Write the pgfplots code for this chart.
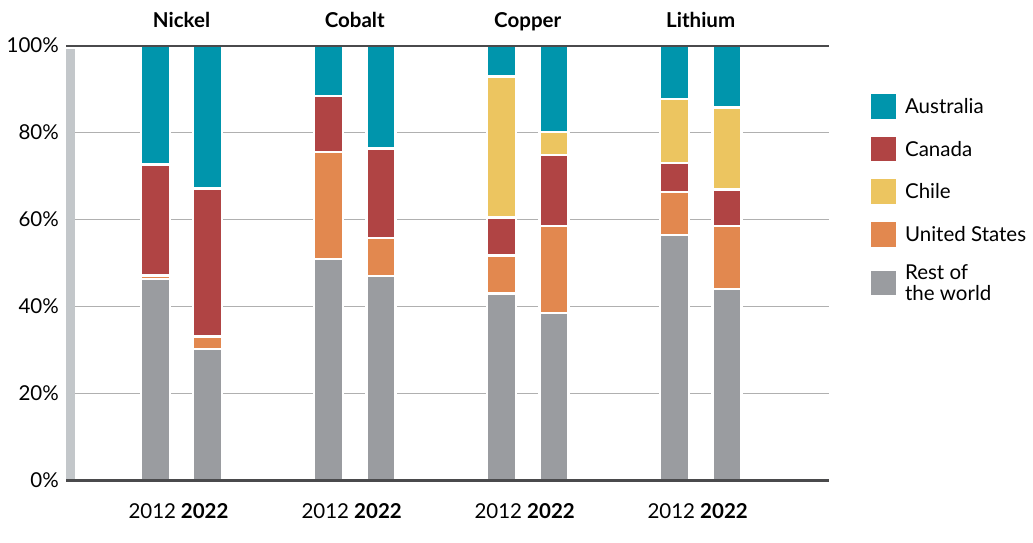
\documentclass[border=0pt]{standalone}
\usepackage{pgfplots}
\pgfplotsset{compat=1.18}
\usepackage{pgfplotstable}
\usepackage{fontspec}
\setmainfont{Lato}

\definecolor{cAus}{HTML}{0095AC}
\definecolor{cCan}{HTML}{B04444}
\definecolor{cChi}{HTML}{ECC560}
\definecolor{cUS}{HTML}{E2884F}
\definecolor{cRest}{HTML}{9A9CA0}
\definecolor{sidebar}{HTML}{C3C7CA}
\definecolor{gridgray}{HTML}{B0B0B0}
\definecolor{rulegray}{HTML}{4A4A4C}

% share of mined output (%), x = bar position
\pgfplotstableread{
x      rest  us    can   chile aus
155.3  46.3  0.9   25.5  0.0   27.3
207.7  30.2  2.9   34.0  0.0   32.9
328.3  50.9  24.7  12.8  0.0   11.6
381.0  47.0  8.8   20.6  0.0   23.6
501.3  43.0  8.7   8.8   32.4  7.1
554.0  38.5  20.0  16.4  5.2   19.9
674.3  56.5  9.9   6.6   14.7  12.3
727.0  44.0  14.5  8.4   18.9  14.2
}\shares

\tikzset{lt/.style={text height=15bp, text depth=0bp}}
\pgfplotsset{
  segment/.style={fill=#1, draw=white, line width=2.5bp, forget plot},
  sq/.style={legend image code/.code={\fill[#1] (0bp,-11.85bp) rectangle (23.7bp,11.85bp);}},
}

\begin{document}
\fontsize{20.5bp}{24bp}\selectfont
\begin{tikzpicture}
\begin{axis}[
  at={(0,0)}, anchor=south west,
  scale only axis, width=763bp, height=434.8bp,
  xmin=66, xmax=829, ymin=0, ymax=100,
  ybar stacked, bar width=29,
  clip=false,
  axis line style={draw=none},
  major tick length=0pt,
  ytick={0,20,...,100},
  yticklabel={\pgfmathprintnumber{\tick}\%},
  /pgf/number format/assume math mode=true,
  yticklabel style={anchor=east, inner sep=0pt, text height=14.3bp, text depth=0pt, xshift=-7bp},
  ymajorgrids, grid style={gridgray, line width=1.3bp},
  xtick={155.3,207.7,328.3,381.0,501.3,554.0,674.3,727.0},
  xticklabels={2012,\textbf{2022},2012,\textbf{2022},2012,\textbf{2022},2012,\textbf{2022}},
  xticklabel style={anchor=north, inner sep=0pt, text height=14.3bp, text depth=0pt, yshift=-23.5bp, xshift=-3bp},
  legend style={at={(1.055,0.8889)}, anchor=north west, draw=none,
    inner sep=0pt, outer sep=0pt, row sep=18.5bp, column sep=10bp,
    nodes={inner sep=0pt}},
  legend cell align=left,
]
\fill[sidebar] (axis cs:66,0) rectangle (axis cs:75,99.2);

\addplot[segment=cRest] table[x=x, y=rest] {\shares};
\addplot[segment=cUS]   table[x=x, y=us]    {\shares};
\addplot[segment=cCan]  table[x=x, y=can]   {\shares};
\addplot[segment=cChi]  table[x=x, y=chile] {\shares};
\addplot[segment=cAus]  table[x=x, y=aus]   {\shares};

\node[font=\bfseries, anchor=base] at (axis cs:181.5,100) [yshift=17.7bp] {Nickel};
\node[font=\bfseries, anchor=base] at (axis cs:354.7,100) [yshift=17.7bp] {Cobalt};
\node[font=\bfseries, anchor=base] at (axis cs:527.7,100) [yshift=17.7bp] {Copper};
\node[font=\bfseries, anchor=base] at (axis cs:700.7,100) [yshift=17.7bp] {Lithium};

\addlegendimage{sq=cAus}
\addlegendentry[lt]{Australia}
\addlegendimage{sq=cCan}
\addlegendentry[lt]{Canada}
\addlegendimage{sq=cChi}
\addlegendentry[lt]{Chile}
\addlegendimage{sq=cUS}
\addlegendentry[lt]{United States}
\addlegendimage{sq=cRest}
\addlegendentry[align=left, font={\fontsize{20.5bp}{21.5bp}\selectfont},
  text height=36.5bp, text depth=-21.5bp]{Rest of\\the world}
\end{axis}
% frame rules on top of the bars
\draw[rulegray, line width=1.8bp] (0bp,434.8bp) -- (763bp,434.8bp);
\draw[rulegray, line width=2.2bp] (0bp,0bp) -- (763bp,0bp);
\pgfresetboundingbox
\path (-66bp,-62.5bp) rectangle (967bp,480.5bp);
\end{tikzpicture}
\end{document}
